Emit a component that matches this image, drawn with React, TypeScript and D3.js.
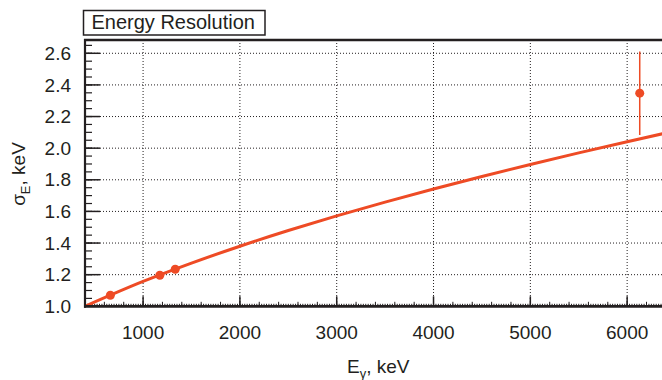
import React from "react";
import * as d3 from "d3";

// Data
const fitEnergy = [400, 1000, 1500, 2000, 2500, 3000, 3500, 4000, 4500, 5000, 5500, 6000, 6400];
const fitSigma = [1.0, 1.157, 1.273, 1.38, 1.479, 1.572, 1.659, 1.742, 1.821, 1.897, 1.97, 2.041, 2.096];
const pointEnergy = [662, 1173, 1332, 6130];
const pointSigma = [1.07, 1.196, 1.234, 2.348];
const pointErr = [0, 0, 0, 0.264];
const xTicks = [1000, 2000, 3000, 4000, 5000, 6000];
const yTicks = [1.0, 1.2, 1.4, 1.6, 1.8, 2.0, 2.2, 2.4, 2.6];

const W = 662;
const H = 380;
const left = 85;
const right = 662;
const top = 40;
const bottom = 306.3;
const RED = "#ee4b25";
const INK = "#231f20";
const FONT = "'Liberation Sans', Arial, Helvetica, sans-serif";

export default function App() {
  const x = d3.scaleLinear().domain([400, 6360]).range([left, right]);
  const y = d3.scaleLinear().domain([1.0, 2.684]).range([bottom, top]);

  const fit = fitEnergy.map((e, i) => [e, fitSigma[i]] as [number, number]);
  const line = d3
    .line<[number, number]>()
    .x((d) => x(d[0]))
    .y((d) => y(d[1]))
    .curve(d3.curveMonotoneX);

  const tiny = d3.range(400, 6360, 25);
  const medium = d3.range(400, 6360, 200);
  const yMinor = d3.range(1.0, 2.68, 0.05);

  return (
    <svg
      width={W}
      height={H}
      style={{ position: "absolute", left: 0, top: 0, background: "#fff" }}
      fontFamily={FONT}
    >
      <defs>
        <clipPath id="plot">
          <rect x={left} y={top} width={right - left} height={bottom - top} />
        </clipPath>
      </defs>

      {/* grid */}
      {xTicks.map((t) => (
        <line key={"gx" + t} x1={x(t)} x2={x(t)} y1={top} y2={bottom} stroke={INK} strokeWidth={1} strokeDasharray="1,2" />
      ))}
      {yTicks.filter((t) => t > 1.0).map((t) => (
        <line key={"gy" + t} x1={left} x2={right} y1={y(t)} y2={y(t)} stroke={INK} strokeWidth={1} strokeDasharray="1,2" />
      ))}

      {/* x ticks */}
      {tiny.map((t) => (
        <line key={"tt" + t} x1={x(t)} x2={x(t)} y1={bottom} y2={bottom - 2.5} stroke={INK} strokeWidth={1} />
      ))}
      {medium.map((t) => (
        <line key={"mt" + t} x1={x(t)} x2={x(t)} y1={bottom} y2={bottom - 4.5} stroke={INK} strokeWidth={1} />
      ))}
      {xTicks.map((t) => (
        <line key={"xt" + t} x1={x(t)} x2={x(t)} y1={bottom} y2={bottom - 10} stroke={INK} strokeWidth={1.5} />
      ))}

      {/* y ticks */}
      {yMinor.map((t) => (
        <line key={"ym" + t} x1={left} x2={left + 7} y1={y(t)} y2={y(t)} stroke={INK} strokeWidth={1.2} />
      ))}
      {yTicks.map((t) => (
        <line key={"yt" + t} x1={left} x2={left + 15} y1={y(t)} y2={y(t)} stroke={INK} strokeWidth={1.5} />
      ))}

      {/* fit curve */}
      <g clipPath="url(#plot)">
        <path d={line(fit) || ""} fill="none" stroke={RED} strokeWidth={3} />
        {pointEnergy.map((e, i) =>
          pointErr[i] > 0 ? (
            <line
              key={"eb" + i}
              x1={x(e)}
              x2={x(e)}
              y1={y(pointSigma[i] - pointErr[i])}
              y2={y(pointSigma[i] + pointErr[i])}
              stroke={RED}
              strokeWidth={1.5}
            />
          ) : null
        )}
        {pointEnergy.map((e, i) => (
          <circle key={"p" + i} cx={x(e)} cy={y(pointSigma[i])} r={4.5} fill={RED} />
        ))}
      </g>

      {/* frame */}
      <line x1={left} x2={left} y1={top - 1} y2={bottom + 1.5} stroke={INK} strokeWidth={2.2} />
      <line x1={left - 1} x2={right} y1={bottom} y2={bottom} stroke={INK} strokeWidth={2.8} />
      <line x1={left - 1} x2={right} y1={top} y2={top} stroke={INK} strokeWidth={2.5} />

      {/* tick labels */}
      {xTicks.map((t) => (
        <text key={"xl" + t} x={x(t)} y={338.5} textAnchor="middle" fontSize={19} fill={INK}>
          {t}
        </text>
      ))}
      {yTicks.map((t) => (
        <text key={"yl" + t} x={71} y={y(t)} dy="0.35em" textAnchor="end" fontSize={19} fill={INK}>
          {t.toFixed(1)}
        </text>
      ))}

      {/* axis titles */}
      <text x={347} y={373} fontSize={19} fill={INK}>
        E
        <tspan fontSize={13} dy={5}>γ</tspan>
        <tspan dy={-5}>, keV</tspan>
      </text>
      <text transform="translate(25,174) rotate(-90)" textAnchor="middle" fontSize={19} fill={INK}>
        σ
        <tspan fontSize={13} dy={5}>E</tspan>
        <tspan dy={-5}>, keV</tspan>
      </text>

      {/* title box */}
      <rect x={83.5} y={10.5} width={181.5} height={24.5} fill="#fff" stroke={INK} strokeWidth={1.5} />
      <text x={91.5} y={29} fontSize={20} fill={INK}>
        Energy Resolution
      </text>
    </svg>
  );
}
